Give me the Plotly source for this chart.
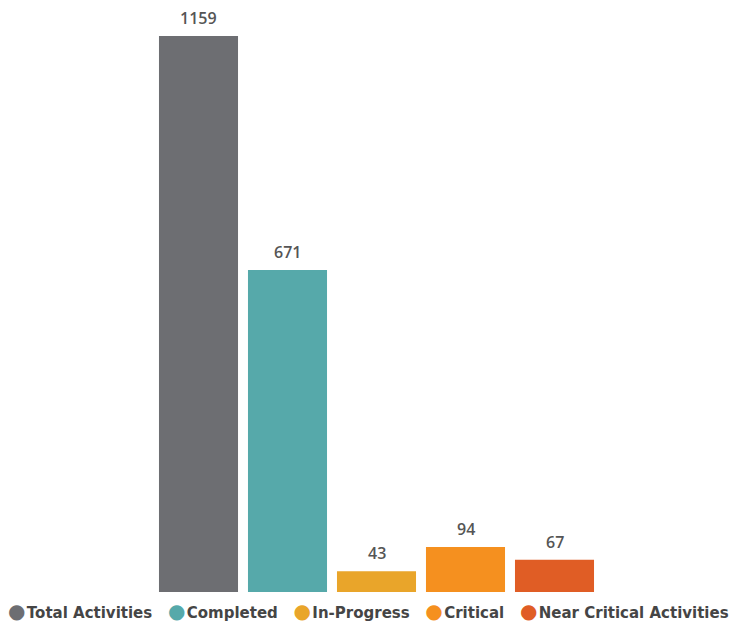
import plotly.graph_objects as go

categories = ["Total Activities", "Completed", "In-Progress", "Critical", "Near Critical Activities"]
values = [1159, 671, 43, 94, 67]
colors = ["#6d6e72", "#56a9aa", "#e9a52a", "#f5901f", "#e05d25"]

W, H = 737, 623

fig = go.Figure()
for i, (c, v, col) in enumerate(zip(categories, values, colors)):
    fig.add_trace(go.Bar(x=[i], y=[v], width=0.888, marker=dict(color=col, line=dict(width=0)),
                         name=c, showlegend=False, hoverinfo="skip"))
    fig.add_annotation(x=i, y=v, text=str(v), showarrow=False, yanchor="bottom", yshift=5,
                       font=dict(size=16, color="#555555", family="Open Sans", weight=600))

# legend row (circle markers + category names)
legend_text = "&nbsp;&nbsp;&nbsp;".join(
    f'<span style="color:{col};font-size:20px">●</span><span style="font-size:4px">&nbsp;</span>{c}'
    for c, col in zip(categories, colors)
)
fig.add_annotation(x=0.5, xref="paper", y=12 / H, yref="paper", xanchor="center", yanchor="middle",
                   text=legend_text, showarrow=False,
                   font=dict(size=15, color="#454545", family="DejaVu Sans", weight="bold"))

fig.update_layout(
    width=W, height=H,
    margin=dict(l=0, r=0, t=0, b=0),
    paper_bgcolor="white", plot_bgcolor="white",
    barmode="overlay",
    showlegend=False,
    xaxis=dict(range=[-0.5, 4.5], visible=False, fixedrange=True, domain=[154 / W, 599 / W]),
    yaxis=dict(range=[0, 1159], visible=False, fixedrange=True, domain=[31 / H, 1 - 36 / H]),
    font=dict(family="DejaVu Sans"),
)

fig.write_html("out.html")
